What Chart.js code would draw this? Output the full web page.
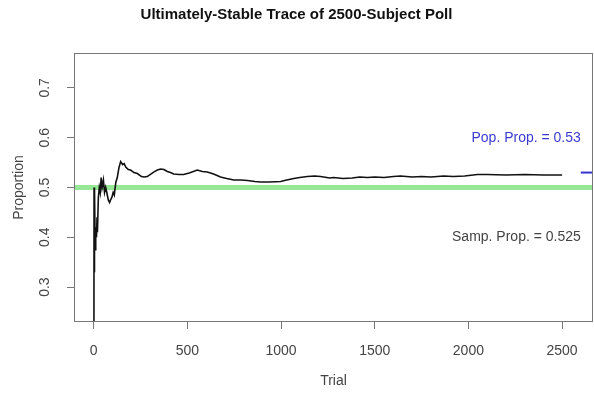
<!DOCTYPE html>
<html>
<head>
<meta charset="utf-8">
<script src="https://cdn.jsdelivr.net/npm/chart.js@4"></script>
<style>
  html, body { margin: 0; padding: 0; background: #fff; }
  #wrap { width: 594px; height: 393px; }
</style>
</head>
<body>
<div id="wrap"><canvas id="poll"></canvas></div>
<script>
// running proportion of "yes" answers after each trial
const trials = [1, 2, 3, 4, 6, 8, 10, 12, 15, 18, 20, 25, 30, 35, 40, 45, 52, 58, 64, 70, 78, 85, 90, 97,
  104, 110, 118, 126, 135, 144, 155, 163, 171, 185, 197, 215, 233, 255, 270, 286, 305, 320, 340, 357,
  375, 393, 410, 427, 455, 480, 510, 553, 580, 606, 640, 677, 710, 748, 785, 821, 860, 891, 940, 998,
  1030, 1068, 1100, 1140, 1180, 1211, 1260, 1281, 1330, 1380, 1420, 1461, 1500, 1550, 1600, 1638,
  1700, 1750, 1800, 1868, 1920, 1980, 2048, 2100, 2200, 2300, 2400, 2500];
const proportions = [0.0, 0.5, 0.33, 0.5, 0.5, 0.375, 0.4, 0.42, 0.4, 0.44, 0.41, 0.48, 0.5, 0.49,
  0.52, 0.5, 0.515, 0.49, 0.5, 0.49, 0.475, 0.47, 0.475, 0.48, 0.49, 0.485, 0.51, 0.52, 0.54, 0.552,
  0.546, 0.548, 0.541, 0.536, 0.535, 0.53, 0.528, 0.522, 0.521, 0.522, 0.527, 0.531, 0.535, 0.537,
  0.536, 0.532, 0.53, 0.527, 0.526, 0.526, 0.529, 0.535, 0.532, 0.531, 0.527, 0.521, 0.518, 0.515,
  0.515, 0.514, 0.512, 0.511, 0.511, 0.512, 0.515, 0.518, 0.52, 0.522, 0.523, 0.522, 0.519, 0.52,
  0.518, 0.519, 0.521, 0.52, 0.521, 0.52, 0.522, 0.523, 0.521, 0.522, 0.521, 0.523, 0.522, 0.523,
  0.526, 0.526, 0.525, 0.526, 0.525, 0.525];

const popProp = 0.53;
const sampProp = 0.525;
const refLevel = 0.5;
const popMarkTrials = [2600, 2720];
const xTicks = [0, 500, 1000, 1500, 2000, 2500];
const yTicks = [0.3, 0.4, 0.5, 0.6, 0.7];

const FONT = "'Liberation Sans', Arial, sans-serif";

const tracePoints = trials.map((t, i) => ({x: t, y: proportions[i]}));

// R-style box, rotated y labels and the two text notes
const extras = {
    id: 'extras',
    afterDraw(chart) {
        const {ctx, chartArea: a, scales: {x, y}} = chart;
        ctx.save();
        ctx.strokeStyle = '#777';
        ctx.lineWidth = 1;
        ctx.strokeRect(a.left + 0.5, a.top + 0.5, a.right - a.left - 1, a.bottom - a.top - 1);

        ctx.fillStyle = '#444';
        ctx.font = '14px ' + FONT;
        ctx.textAlign = 'center';
        ctx.textBaseline = 'middle';
        for (const v of yTicks) {
            ctx.save();
            ctx.translate(45, y.getPixelForValue(v));
            ctx.rotate(-Math.PI / 2);
            ctx.fillText(v.toFixed(1), 0, 0);
            ctx.restore();
        }

        ctx.textAlign = 'right';
        ctx.fillStyle = '#3b3bd0';
        ctx.fillText('Pop. Prop. = ' + popProp, x.getPixelForValue(2600), y.getPixelForValue(0.6));
        ctx.fillStyle = '#444';
        ctx.fillText('Samp. Prop. = ' + sampProp, x.getPixelForValue(2600), y.getPixelForValue(0.4));
        ctx.restore();
    }
};

new Chart(document.getElementById('poll'), {
    type: 'scatter',
    data: {
        datasets: [
            {
                data: tracePoints,
                showLine: true,
                borderColor: '#111',
                borderWidth: 1.6,
                pointRadius: 0,
                tension: 0
            },
            {
                data: popMarkTrials.map(t => ({x: t, y: popProp})),
                showLine: true,
                borderColor: '#3333cc',
                borderWidth: 2,
                pointRadius: 0
            },
            {
                data: [{x: -300, y: refLevel}, {x: 3000, y: refLevel}],
                showLine: true,
                borderColor: 'rgb(150,232,150)',
                borderWidth: 5,
                pointRadius: 0
            }
        ]
    },
    options: {
        responsive: true,
        maintainAspectRatio: false,
        animation: false,
        layout: { padding: { left: 0, right: 1, top: 0, bottom: 0 } },
        plugins: {
            legend: { display: false },
            tooltip: { enabled: false },
            title: {
                display: true,
                text: 'Ultimately-Stable Trace of 2500-Subject Poll',
                color: '#111',
                font: { family: FONT, size: 15, weight: 'bold' },
                padding: { top: 6, bottom: 29 }
            }
        },
        scales: {
            x: {
                type: 'linear',
                min: -105,
                max: 2665,
                afterBuildTicks(scale) { scale.ticks = xTicks.map(v => ({value: v})); },
                afterFit(scale) { scale.height = 71; },
                border: { display: false },
                grid: { drawOnChartArea: false, tickLength: 7, color: '#777' },
                ticks: {
                    color: '#444',
                    font: { family: FONT, size: 14 },
                    padding: 14,
                    maxRotation: 0,
                    callback: v => String(v)
                },
                title: {
                    display: true,
                    text: 'Trial',
                    color: '#444',
                    font: { family: FONT, size: 14 },
                    padding: { top: 3, bottom: 3 }
                }
            },
            y: {
                min: 0.23,
                max: 0.77,
                afterBuildTicks(scale) { scale.ticks = yTicks.map(v => ({value: v})); },
                afterFit(scale) { scale.width = 74; },
                border: { display: false },
                grid: { drawOnChartArea: false, tickLength: 7, color: '#777' },
                ticks: { color: 'rgba(0,0,0,0)', font: { family: FONT, size: 14 } },
                title: {
                    display: true,
                    text: 'Proportion',
                    color: '#444',
                    font: { family: FONT, size: 14 },
                    padding: { top: 11, bottom: 11 }
                }
            }
        }
    },
    plugins: [extras]
});
</script>
</body>
</html>
